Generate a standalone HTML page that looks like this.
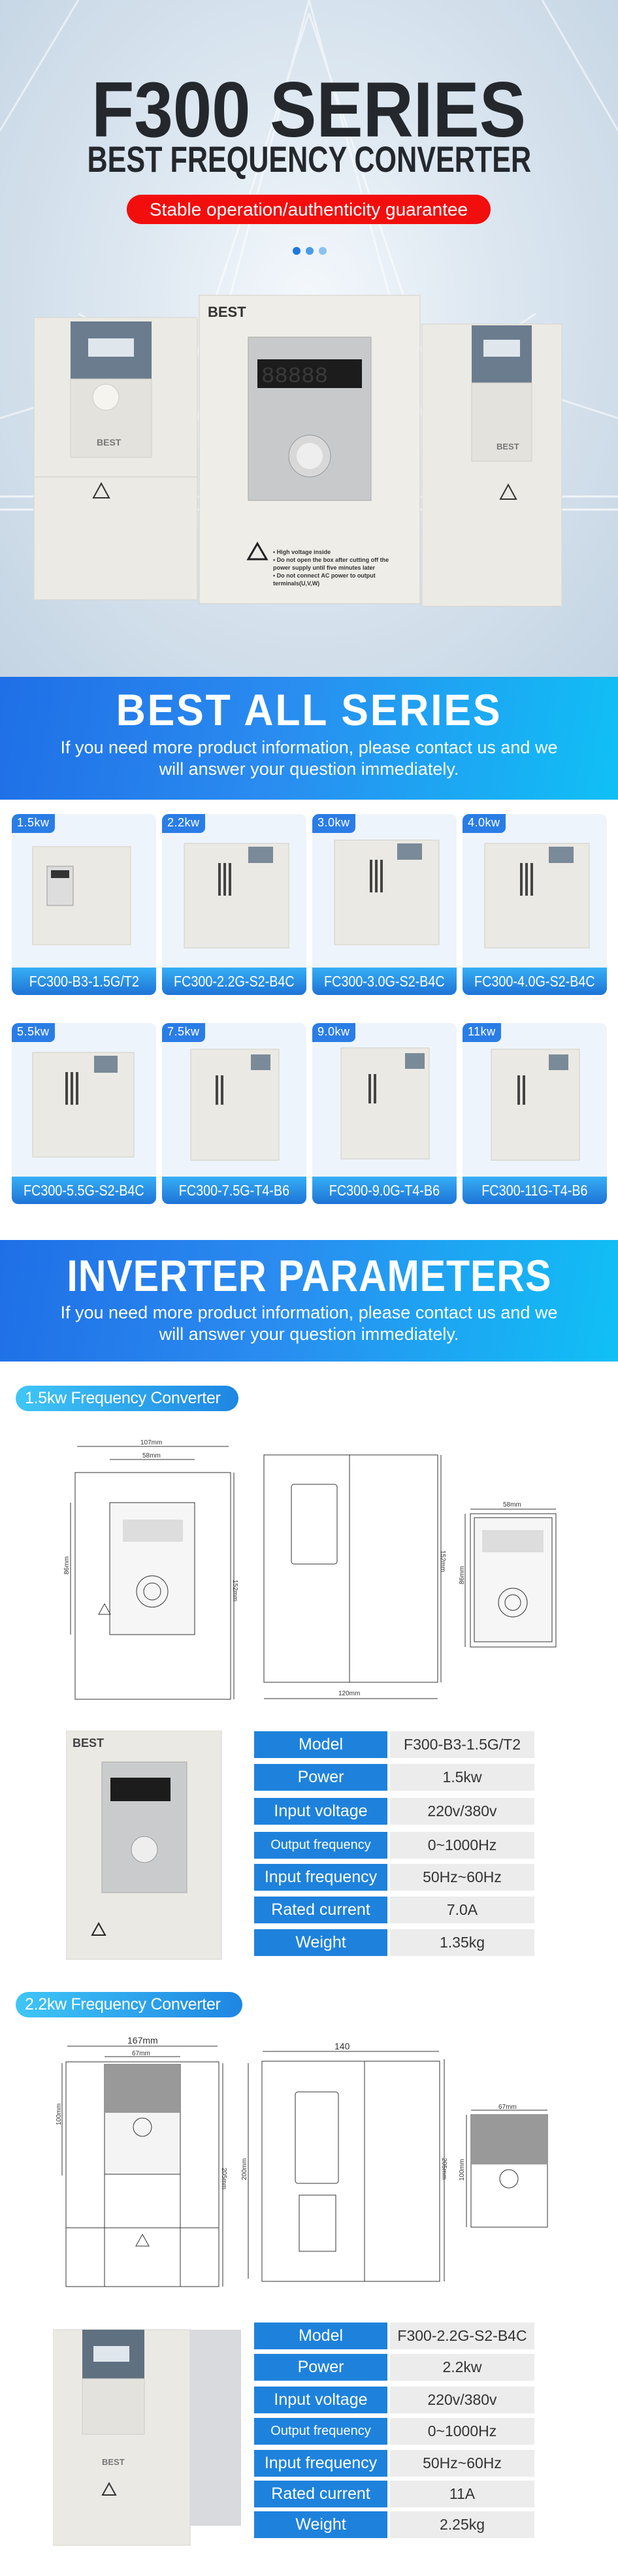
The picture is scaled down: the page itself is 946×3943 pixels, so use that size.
<!DOCTYPE html>
<html><head><meta charset="utf-8"><style>
*{margin:0;padding:0;box-sizing:border-box}
body{width:946px;height:3943px;position:relative;background:#fff;font-family:"Liberation Sans",sans-serif;overflow:hidden}
.a{position:absolute}
.hero{left:0;top:0;width:946px;height:1036px;background:radial-gradient(ellipse at 50% 45%,#f4f8fc 0%,#dbe6f0 45%,#c4d4e3 100%)}
.t1{left:0;width:946px;text-align:center;color:#24282d;font-weight:bold;white-space:nowrap}
.t1 span,.bt span,.lab span{display:inline-block}
.banner{left:0;width:946px;background:linear-gradient(100deg,#1f6fe6 0%,#2a8cf0 45%,#10c0f5 100%)}
.bt{left:0;width:946px;text-align:center;color:#fff;font-weight:bold;white-space:nowrap}
.sub{left:0;width:946px;text-align:center;color:#fff;font-size:27px;line-height:33px}
.card{background:#eef4fb;border-radius:10px;overflow:hidden;width:221px;height:277px}
.tag{position:absolute;left:0;top:0;background:#2a7de6;color:#fff;font-size:18px;padding:3px 8px;border-radius:0 0 8px 0;height:29px;letter-spacing:.5px}
.lab{position:absolute;left:0;bottom:0;width:100%;height:42px;background:linear-gradient(#36aff5,#1e73d6);color:#fff;font-size:23px;text-align:center;line-height:42px;white-space:nowrap}
.lab span{transform:scaleX(.86)}
.pill{border-radius:22px;background:linear-gradient(90deg,#3fc6f7,#1e86e2);color:#fff;font-size:25px;line-height:39px;padding-left:14px;white-space:nowrap;letter-spacing:-.3px}
.row{position:absolute;height:41px}
.rl{position:absolute;left:0;width:204px;height:100%;background:#1e82dc;color:#fff;font-size:25px;text-align:center;line-height:41px;white-space:nowrap}
.rv{position:absolute;left:208px;width:221px;height:100%;background:#ececec;color:#333;font-size:23px;text-align:center;line-height:41px}
</style></head><body>
<div class="a hero"></div>
<svg class="a" style="left:0;top:0" width="946" height="1036">
<g stroke="#fff" stroke-opacity=".55" stroke-width="3" fill="none">
<path d="M473 0 L300 650 M473 0 L650 650 M473 20 L250 700 M473 20 L700 700 M120 0 L0 200 M830 0 L946 200 M0 640 L260 560 L120 480 M946 640 L700 560 L820 480"/>
<path d="M0 760 L946 760 M0 780 L946 780" stroke-opacity=".7"/>
</g></svg>
<div class="a t1" style="top:106px;font-size:120px;line-height:124px"><span style="transform:scaleX(.89)">F300 SERIES</span></div>
<div class="a t1" style="top:216px;font-size:56px;line-height:56px"><span style="transform:scaleX(.77)">BEST FREQUENCY CONVERTER</span></div>
<div class="a" style="left:194px;top:298px;width:557px;height:45px;border-radius:23px;background:#f30e0e;color:#fff;font-size:28px;line-height:45px;text-align:center">Stable operation/authenticity guarantee</div>
<div class="a" style="left:448px;top:378px;width:12px;height:12px;border-radius:6px;background:#1e78e0"></div>
<div class="a" style="left:468px;top:378px;width:12px;height:12px;border-radius:6px;background:#4a9ae8"></div>
<div class="a" style="left:488px;top:378px;width:12px;height:12px;border-radius:6px;background:#8fc0f0"></div>
<svg class="a" style="left:0;top:440px" width="946" height="500">
<rect x="52" y="46" width="250" height="432" fill="#eceae4" stroke="#d6d4cc"/>
<rect x="108" y="52" width="124" height="88" fill="#6b7c8e"/>
<rect x="135" y="78" width="70" height="28" fill="#dfe6ec"/>
<rect x="108" y="140" width="124" height="120" fill="#e4e2dc" stroke="#cfcdc6"/>
<circle cx="162" cy="168" r="20" fill="#f5f4ef" stroke="#ccc"/>
<text x="148" y="242" font-size="14" font-weight="bold" fill="#777">BEST</text>
<path d="M155 300 l12 22 h-24z" fill="none" stroke="#333" stroke-width="2"/>
<line x1="52" y1="290" x2="302" y2="290" stroke="#d0cec7"/>
<rect x="646" y="56" width="214" height="432" fill="#eceae4" stroke="#d6d4cc"/>
<rect x="722" y="58" width="92" height="88" fill="#6b7c8e"/>
<rect x="740" y="80" width="56" height="26" fill="#dfe6ec"/>
<rect x="722" y="146" width="92" height="120" fill="#e4e2dc" stroke="#cfcdc6"/>
<text x="760" y="248" font-size="13" font-weight="bold" fill="#777">BEST</text>
<path d="M778 302 l12 22 h-24z" fill="none" stroke="#333" stroke-width="2"/>
<rect x="305" y="12" width="338" height="472" fill="#efede7" stroke="#d2d0c8"/>
<text x="318" y="45" font-size="22" font-weight="bold" fill="#333">BEST</text>
<rect x="380" y="76" width="188" height="250" fill="#c7c9cb" stroke="#aaa"/>
<rect x="394" y="110" width="160" height="44" fill="#1c1c1c"/>
<text x="400" y="145" font-size="34" fill="#3a3a3a" font-family="Liberation Mono">88888</text>
<circle cx="474" cy="258" r="32" fill="#d8d8d8" stroke="#999"/>
<circle cx="474" cy="258" r="20" fill="#eee"/>
<path d="M394 392 l14 24 h-28z" fill="none" stroke="#222" stroke-width="3"/>
<text x="418" y="408" font-size="9" font-weight="bold" fill="#333">• High voltage inside</text>
<text x="418" y="420" font-size="9" font-weight="bold" fill="#333">• Do not open the box after cutting off the</text>
<text x="418" y="432" font-size="9" font-weight="bold" fill="#333">power supply until five minutes later</text>
<text x="418" y="444" font-size="9" font-weight="bold" fill="#333">• Do not connect AC power to output</text>
<text x="418" y="456" font-size="9" font-weight="bold" fill="#333">terminals(U,V,W)</text>
</svg>

<div class="a banner" style="top:1036px;height:188px"></div>
<div class="a bt" style="top:1056px;font-size:68px;line-height:62px"><span style="transform:scaleX(.92);letter-spacing:3px">BEST ALL SERIES</span></div>
<div class="a sub" style="top:1128px">If you need more product information, please contact us and we<br>will answer your question immediately.</div>

<div class="a card" style="left:18px;top:1246px"><div class="tag">1.5kw</div><div class="lab"><span>FC300-B3-1.5G/T2</span></div></div>
<div class="a card" style="left:248px;top:1246px"><div class="tag">2.2kw</div><div class="lab"><span>FC300-2.2G-S2-B4C</span></div></div>
<div class="a card" style="left:478px;top:1246px"><div class="tag">3.0kw</div><div class="lab"><span>FC300-3.0G-S2-B4C</span></div></div>
<div class="a card" style="left:708px;top:1246px"><div class="tag">4.0kw</div><div class="lab"><span>FC300-4.0G-S2-B4C</span></div></div>
<div class="a card" style="left:18px;top:1566px"><div class="tag">5.5kw</div><div class="lab"><span>FC300-5.5G-S2-B4C</span></div></div>
<div class="a card" style="left:248px;top:1566px"><div class="tag">7.5kw</div><div class="lab"><span>FC300-7.5G-T4-B6</span></div></div>
<div class="a card" style="left:478px;top:1566px"><div class="tag">9.0kw</div><div class="lab"><span>FC300-9.0G-T4-B6</span></div></div>
<div class="a card" style="left:708px;top:1566px"><div class="tag">11kw</div><div class="lab"><span>FC300-11G-T4-B6</span></div></div>
<svg class="a" style="left:0;top:1246px" width="946" height="600">
<g fill="#ebe9e3" stroke="#d0cec6">
<rect x="50" y="50" width="150" height="150"/><rect x="282" y="45" width="160" height="160"/><rect x="512" y="40" width="160" height="160"/><rect x="742" y="45" width="160" height="160"/>
<rect x="50" y="365" width="155" height="160"/><rect x="292" y="360" width="135" height="170"/><rect x="522" y="358" width="135" height="170"/><rect x="752" y="360" width="135" height="170"/>
</g>
<g fill="#7b8a98">
<rect x="380" y="50" width="38" height="25"/><rect x="608" y="45" width="38" height="25"/><rect x="840" y="50" width="38" height="25"/>
<rect x="144" y="370" width="36" height="26"/><rect x="384" y="368" width="30" height="24"/><rect x="620" y="366" width="30" height="24"/><rect x="840" y="368" width="30" height="24"/>
</g>
<g fill="#444"><rect x="334" y="75" width="4" height="50"/><rect x="342" y="75" width="4" height="50"/><rect x="350" y="75" width="4" height="50"/><rect x="566" y="70" width="4" height="50"/><rect x="574" y="70" width="4" height="50"/><rect x="582" y="70" width="4" height="50"/><rect x="796" y="75" width="4" height="50"/><rect x="804" y="75" width="4" height="50"/><rect x="812" y="75" width="4" height="50"/>
<rect x="100" y="395" width="4" height="50"/><rect x="108" y="395" width="4" height="50"/><rect x="116" y="395" width="4" height="50"/><rect x="330" y="400" width="4" height="45"/><rect x="338" y="400" width="4" height="45"/><rect x="564" y="398" width="4" height="45"/><rect x="572" y="398" width="4" height="45"/><rect x="792" y="400" width="4" height="45"/><rect x="800" y="400" width="4" height="45"/></g>
<rect x="72" y="80" width="40" height="60" fill="#ddd" stroke="#999"/><rect x="78" y="86" width="28" height="12" fill="#333"/>
</svg>

<div class="a banner" style="top:1898px;height:186px"></div>
<div class="a bt" style="top:1922px;font-size:68px;line-height:62px"><span style="transform:scaleX(.87);letter-spacing:1px">INVERTER PARAMETERS</span></div>
<div class="a sub" style="top:1993px">If you need more product information, please contact us and we<br>will answer your question immediately.</div>

<div class="a pill" style="left:24px;top:2121px;width:341px">1.5kw Frequency Converter</div>
<svg class="a" style="left:0;top:2200px" width="946" height="420" font-family="Liberation Sans" font-size="10" fill="none" stroke="#333">
<rect x="115" y="54" width="238" height="347"/>
<rect x="168" y="100" width="130" height="202" fill="#f6f6f6"/>
<rect x="188" y="126" width="92" height="34" fill="#ddd" stroke="none"/>
<circle cx="233" cy="236" r="24"/><circle cx="233" cy="236" r="13"/>
<line x1="118" y1="14" x2="350" y2="14"/><line x1="168" y1="34" x2="298" y2="34"/>
<line x1="108" y1="100" x2="108" y2="302"/><line x1="358" y1="54" x2="358" y2="401"/>
<path d="M160 255 l9 16 h-18z"/>
<rect x="404" y="27" width="266" height="348"/><line x1="535" y1="27" x2="535" y2="375"/>
<rect x="446" y="72" width="70" height="122" rx="4"/>
<line x1="404" y1="400" x2="670" y2="400"/><line x1="675" y1="27" x2="675" y2="375"/>
<rect x="720" y="117" width="131" height="204"/><rect x="726" y="123" width="119" height="190" fill="#f6f6f6"/>
<rect x="738" y="142" width="94" height="34" fill="#ddd" stroke="none"/><circle cx="785" cy="253" r="22"/><circle cx="785" cy="253" r="12"/>
<line x1="720" y1="110" x2="851" y2="110"/><line x1="712" y1="117" x2="712" y2="321"/>
<g fill="#333" stroke="none"><text x="215" y="11">107mm</text><text x="218" y="31">58mm</text><text x="518" y="395">120mm</text><text x="770" y="106">58mm</text>
<text x="95" y="210" transform="rotate(-90 100 205)">86mm</text><text x="360" y="225" transform="rotate(90 362 220)">152mm</text>
<text x="678" y="180" transform="rotate(90 680 175)">152mm</text><text x="700" y="225" transform="rotate(-90 705 220)">86mm</text></g>
</svg>
<svg class="a" style="left:101px;top:2649px" width="242" height="353">
<rect x="0" y="0" width="238" height="350" fill="#ebe9e3" stroke="#d4d2ca"/>
<text x="10" y="25" font-size="18" font-weight="bold" fill="#444" font-family="Liberation Sans">BEST</text>
<rect x="55" y="48" width="130" height="200" fill="#c9cbcd" stroke="#aaa"/>
<rect x="68" y="72" width="92" height="36" fill="#1c1c1c"/>
<circle cx="120" cy="182" r="20" fill="#eee" stroke="#999"/>
<path d="M50 295 l10 18 h-20z" fill="none" stroke="#222" stroke-width="2"/>
</svg>
<div class="row" style="left:389px;top:2650px"><div class="rl">Model</div><div class="rv">F300-B3-1.5G/T2</div></div>
<div class="row" style="left:389px;top:2700px"><div class="rl">Power</div><div class="rv">1.5kw</div></div>
<div class="row" style="left:389px;top:2752px"><div class="rl">Input voltage</div><div class="rv">220v/380v</div></div>
<div class="row" style="left:389px;top:2804px"><div class="rl" style="font-size:20px">Output frequency</div><div class="rv">0~1000Hz</div></div>
<div class="row" style="left:389px;top:2853px"><div class="rl">Input frequency</div><div class="rv">50Hz~60Hz</div></div>
<div class="row" style="left:389px;top:2903px"><div class="rl">Rated current</div><div class="rv">7.0A</div></div>
<div class="row" style="left:389px;top:2953px"><div class="rl">Weight</div><div class="rv">1.35kg</div></div>

<div class="a pill" style="left:24px;top:3049px;width:347px">2.2kw Frequency Converter</div>
<svg class="a" style="left:0;top:3100px" width="946" height="420" font-family="Liberation Sans" font-size="12" fill="none" stroke="#333">
<rect x="101" y="56" width="234" height="344"/>
<rect x="160" y="60" width="116" height="168" fill="#f4f4f4"/><rect x="161" y="61" width="114" height="73" fill="#999" stroke="none"/>
<line x1="101" y1="310" x2="335" y2="310"/><line x1="160" y1="228" x2="160" y2="400"/><line x1="276" y1="228" x2="276" y2="400"/>
<circle cx="218" cy="156" r="14"/><path d="M218 320 l10 18 h-20z"/>
<line x1="103" y1="32" x2="333" y2="32"/><line x1="160" y1="48" x2="276" y2="48"/>
<line x1="95" y1="58" x2="95" y2="230"/><line x1="341" y1="58" x2="341" y2="400"/>
<rect x="401" y="55" width="272" height="337"/><line x1="558" y1="55" x2="558" y2="392"/>
<rect x="452" y="102" width="66" height="140" rx="4"/><rect x="458" y="260" width="56" height="86"/>
<line x1="402" y1="40" x2="672" y2="40"/><line x1="380" y1="58" x2="380" y2="388"/><line x1="680" y1="52" x2="680" y2="392"/>
<rect x="721" y="137" width="117" height="172"/><rect x="722" y="138" width="115" height="75" fill="#999" stroke="none"/>
<circle cx="779" cy="235" r="14"/>
<line x1="721" y1="130" x2="838" y2="130"/><line x1="714" y1="137" x2="714" y2="309"/>
<g fill="#333" stroke="none"><text x="195" y="28" font-size="14">167mm</text><text x="202" y="46" font-size="10">67mm</text><text x="512" y="37" font-size="14">140</text><text x="763" y="128" font-size="10">67mm</text>
<text x="80" y="150" font-size="10" transform="rotate(-90 88 145)">100mm</text><text x="338" y="230" font-size="10" transform="rotate(90 345 225)">205mm</text>
<text x="360" y="230" font-size="10" transform="rotate(-90 372 225)">200mm</text><text x="670" y="220" font-size="10" transform="rotate(90 682 215)">205mm</text>
<text x="692" y="230" font-size="10" transform="rotate(-90 705 225)">100mm</text></g>
</svg>
<svg class="a" style="left:81px;top:3561px" width="292" height="343">
<rect x="0" y="5" width="210" height="330" fill="#ebe9e3" stroke="#d4d2ca"/>
<rect x="210" y="5" width="78" height="300" fill="#d8dadd"/>
<rect x="45" y="5" width="95" height="75" fill="#5f7081"/><rect x="62" y="30" width="55" height="24" fill="#dfe6ec"/>
<rect x="45" y="80" width="95" height="85" fill="#e4e2dc" stroke="#ccc"/>
<text x="75" y="212" font-size="13" font-weight="bold" fill="#777" font-family="Liberation Sans">BEST</text>
<path d="M86 240 l10 18 h-20z" fill="none" stroke="#333" stroke-width="2"/>
</svg>
<div class="row" style="left:389px;top:3555px"><div class="rl">Model</div><div class="rv">F300-2.2G-S2-B4C</div></div>
<div class="row" style="left:389px;top:3603px"><div class="rl">Power</div><div class="rv">2.2kw</div></div>
<div class="row" style="left:389px;top:3653px"><div class="rl">Input voltage</div><div class="rv">220v/380v</div></div>
<div class="row" style="left:389px;top:3701px"><div class="rl" style="font-size:20px">Output frequency</div><div class="rv">0~1000Hz</div></div>
<div class="row" style="left:389px;top:3750px"><div class="rl">Input frequency</div><div class="rv">50Hz~60Hz</div></div>
<div class="row" style="left:389px;top:3797px"><div class="rl">Rated current</div><div class="rv">11A</div></div>
<div class="row" style="left:389px;top:3844px"><div class="rl">Weight</div><div class="rv">2.25kg</div></div>
</body></html>
